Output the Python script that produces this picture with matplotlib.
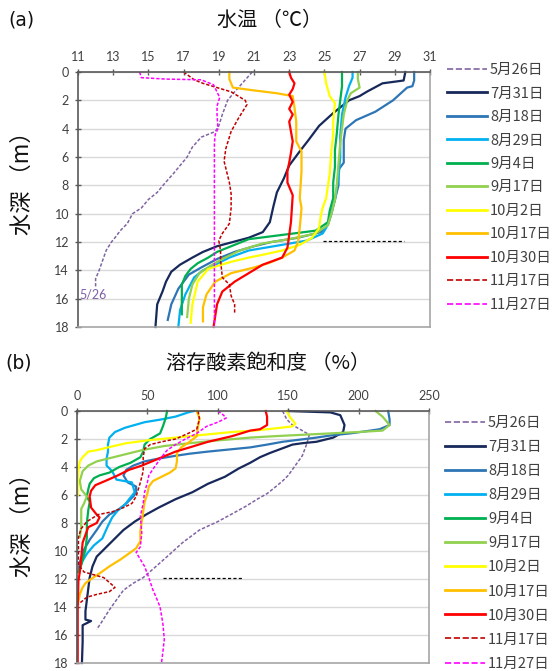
import matplotlib
matplotlib.use("Agg")
import matplotlib.pyplot as plt
from matplotlib.lines import Line2D

plt.rcParams['font.family'] = ['Noto Sans CJK JP', 'DejaVu Sans']

# ---------------- data ----------------
labels = ["5月26日", "7月31日", "8月18日", "8月29日", "9月4日", "9月17日",
          "10月2日", "10月17日", "10月30日", "11月17日", "11月27日"]
colors = ["#8064A2", "#17285A", "#2E75B6", "#00B0F0", "#00B050", "#92D050",
          "#FFFF00", "#FFC000", "#FF0000", "#C00000", "#FF00FF"]
dashed = [True, False, False, False, False, False, False, False, False, True, True]

temp_ticks = [11, 13, 15, 17, 19, 21, 23, 25, 27, 29, 31]
do_ticks = [0, 50, 100, 150, 200, 250]
depth_ticks = [0, 2, 4, 6, 8, 10, 12, 14, 16, 18]

# water temperature profiles: (temperature degC, depth m)
T_0526 = [(20.9,0.0),(20.4,0.7),(19.9,1.4),(19.5,2.0),(19.2,3.0),(19.0,3.8),(18.8,4.2),(18.0,4.6),
          (17.5,5.3),(17.2,6.0),(16.8,6.6),(16.4,7.2),(15.9,7.9),(15.5,8.5),(15.0,9.0),(14.6,9.6),
          (14.1,10.0),(13.8,10.7),(13.4,11.2),(13.1,11.7),(12.9,12.0),(12.6,12.6),(12.4,13.3),
          (12.2,14.0),(12.0,14.6),(12.0,15.2)]
T_0731 = [(29.6,0.0),(29.5,0.6),(28.3,0.8),(27.4,1.4),(27.0,1.7),(26.4,2.0),(25.5,2.9),(24.7,3.8),
          (24.1,4.8),(23.6,5.6),(23.0,6.6),(22.7,7.5),(22.3,8.5),(22.1,9.5),(21.9,10.6),(21.5,11.3),
          (20.7,11.7),(19.8,12.0),(18.9,12.3),(18.1,12.7),(17.5,13.1),(16.8,13.6),(16.3,14.1),
          (16.0,14.8),(15.8,15.5),(15.5,16.4),(15.4,18.0)]
T_0818 = [(30.1,0.0),(30.1,0.6),(30.0,1.0),(29.7,1.1),(28.9,2.0),(27.9,2.8),(26.8,3.4),(26.2,4.0),
          (26.1,4.8),(26.1,5.7),(26.1,6.4),(25.8,6.9),(25.8,8.0),(25.6,9.0),(25.4,10.0),(25.2,10.8),
          (24.8,11.3),(23.5,11.7),(22.0,12.0),(21.0,12.3),(19.9,12.7),(18.9,13.2),(18.0,13.8),
          (17.3,14.3),(16.7,15.3),(16.3,16.4),(16.1,17.5)]
T_0829 = [(26.6,0.0),(26.6,0.4),(26.4,1.0),(26.2,1.8),(26.0,3.0),(25.9,4.5),(25.9,6.0),(25.8,7.5),
          (25.6,9.0),(25.3,10.3),(25.1,11.0),(24.9,11.4),(24.0,11.9),(22.6,12.2),(20.7,12.6),
          (19.6,13.1),(18.8,13.6),(18.1,14.0),(17.6,14.5),(17.1,15.7),(16.8,16.8),(16.7,18.0)]
T_0904 = [(26.0,0.0),(26.0,1.0),(25.9,2.0),(25.8,3.0),(25.7,4.4),(25.6,5.5),(25.6,6.7),(25.5,7.8),
          (25.5,8.9),(25.3,9.8),(25.2,10.6),(24.5,11.2),(22.6,11.5),(20.7,11.8),(19.7,12.3),
          (18.9,12.7),(18.4,13.1),(17.8,13.5),(17.4,13.9),(17.1,14.4),(16.9,15.0),(16.9,16.0),(16.9,17.1)]
T_0917 = [(26.9,0.0),(26.9,0.5),(27.0,1.1),(26.5,1.5),(26.3,2.0),(26.1,3.0),(26.0,4.0),(25.9,5.0),
          (25.8,6.5),(25.7,8.0),(25.6,9.0),(25.4,10.0),(25.2,10.8),(24.5,11.4),(23.0,11.8),
          (21.5,12.1),(20.2,12.6),(19.2,13.2),(18.5,13.7),(17.9,14.2),(17.5,15.0),(17.3,16.0),(17.2,17.3)]
T_1002 = [(25.0,0.0),(25.1,0.8),(25.3,1.7),(25.6,2.2),(25.5,3.5),(25.5,4.4),(25.4,5.5),(25.3,7.2),
          (25.1,8.9),(24.9,9.6),(24.8,10.1),(24.7,11.0),(24.3,11.7),(23.6,12.2),(22.6,12.6),
          (21.5,12.9),(20.7,13.1),(19.7,13.4),(18.9,13.7),(18.4,13.9),(17.8,14.8),(17.5,16.4),(17.4,17.7)]
T_1017 = [(19.6,0.0),(19.6,0.5),(19.7,0.8),(19.8,1.1),(21.0,1.3),(22.3,1.5),(23.2,1.7),(23.3,2.5),
          (23.4,3.5),(23.4,4.9),(23.7,5.6),(23.7,7.0),(23.6,8.9),(23.7,9.6),(23.6,11.0),(23.5,12.0),
          (23.3,12.6),(22.6,13.1),(21.8,13.5),(21.0,13.8),(19.7,14.2),(18.8,14.8),(18.3,15.7),
          (18.1,16.6),(18.1,17.6)]
T_1030 = [(23.0,0.0),(23.1,0.4),(23.3,0.8),(23.2,1.2),(23.0,1.6),(23.2,2.1),(23.0,2.6),(23.2,3.0),
          (23.0,3.5),(23.1,4.2),(23.2,4.9),(23.1,5.7),(23.0,6.4),(22.9,7.0),(22.9,7.8),(23.2,8.7),
          (23.1,10.6),(23.0,11.5),(22.9,12.4),(22.6,13.1),(21.5,13.6),(20.7,14.2),(19.9,14.8),
          (19.2,15.5),(18.9,16.4),(18.7,18.0)]
T_1117 = [(17.0,0.0),(17.6,0.55),(18.1,0.8),(19.7,1.4),(20.5,2.0),(20.6,2.3),(20.1,3.3),(19.7,4.2),
          (19.4,5.4),(19.3,6.3),(19.5,7.3),(19.6,7.8),(19.7,8.6),(19.7,9.6),(19.6,10.7),(19.2,11.4),
          (19.0,11.9),(19.1,12.6),(19.1,13.3),(19.2,14.5),(19.6,15.0),(19.7,15.8),(19.9,16.4),(19.9,17.1)]
T_1127 = [(14.5,0.0),(14.6,0.4),(16.0,0.5),(18.0,0.55),(18.7,0.9),(19.05,1.8),(18.9,2.4),(18.9,3.0),
          (18.95,4.0),(18.8,4.4),(18.75,5.0),(18.75,10.0),(18.75,14.0),(18.75,18.0)]

# dissolved-oxygen saturation profiles: (saturation %, depth m)
DO_0526 = [(146,0.0),(149,0.6),(153,1.0),(160,1.4),(165,1.7),(163,2.4),(160,3.2),(155,3.9),(150,4.6),
           (146,5.0),(140,5.5),(135,5.9),(128,6.3),(120,6.8),(111,7.3),(100,7.9),(87,8.5),(75,9.4),
           (64,10.4),(55,11.2),(47,11.9),(40,12.3),(33,12.8),(28,13.5),(23,14.2),(18,15.0),(14,15.6)]
DO_0731 = [(150,0.0),(165,0.05),(180,0.1),(187,0.3),(190,1.0),(189,1.5),(182,1.9),(170,2.2),(160,2.3),
           (153,2.4),(145,2.7),(137,3.0),(130,3.3),(123,3.7),(115,4.1),(105,4.7),(93,5.2),(82,5.8),
           (70,6.3),(58,6.9),(49,7.4),(41,7.9),(33,8.5),(27,9.1),(20,9.8),(14,10.4),(11,11.1),(9,11.9),
           (8,12.7),(7,13.5),(6,14.3),(6,14.9),(10,15.0),(4,15.3),(4,16.5),(3.5,18.0)]
DO_0818 = [(221,0.0),(222,0.6),(222,1.0),(215,1.3),(205,1.45),(194,1.6),(180,1.75),(170,1.9),
           (158,2.05),(146,2.2),(135,2.4),(123,2.6),(108,2.75),(93,2.9),(80,3.05),(70,3.2),(58,3.4),
           (48,3.6),(40,3.9),(35,4.2),(33,4.6),(36,5.1),(42,5.4),(42,5.8),(40,6.1),(35,6.6),(30,7.0),
           (23,7.4),(18,7.9),(14,8.5),(9,9.2),(5,9.9),(2,10.8),(1,11.5)]
DO_0829 = [(83,0.0),(79,0.1),(70,0.4),(60,0.6),(48,0.8),(34,1.2),(27,1.5),(23,1.9),(22,2.4),(22,2.9),
           (21,3.4),(21,3.9),(25,4.3),(28,4.9),(39,5.1),(41,5.8),(37,6.3),(34,6.7),(29,7.1),(25,7.6),
           (22,8.2),(18,9.1),(12,9.6),(7,10.2),(4,10.7),(2,11.2)]
DO_0904 = [(64,0.0),(63,0.5),(61,1.1),(59,1.6),(52,2.0),(48,2.4),(47,2.9),(45,3.3),(38,3.7),(30,4.0),
           (23,4.4),(16,4.6),(12,4.8),(9,5.2),(8,5.6),(7,6.1),(9,6.5),(8,7.1),(7,8.0),(7,9.0),(6,9.9),
           (3,11.0),(1,11.5)]
DO_0917 = [(212,0.0),(217,0.4),(222,1.0),(217,1.4),(200,1.5),(180,1.6),(160,1.7),(140,1.8),(123,1.9),
           (100,2.1),(80,2.3),(62,2.5),(46,2.8),(34,3.1),(22,3.4),(14,3.6),(8,3.9),(4,4.3),(2,5.0),
           (3,5.6),(7,6.1),(5,6.6),(3,7.0),(3,8.3),(2,9.0)]
DO_1002 = [(149,0.0),(151,0.4),(155,0.9),(153,1.1),(140,1.25),(126,1.4),(110,1.5),(90,1.7),(70,1.9),
           (50,2.1),(35,2.3),(22,2.6),(14,2.8),(8,2.9),(4,3.3),(2,3.6),(1,4.2),(0.5,4.8),(0.5,6.0)]
DO_1017 = [(85,0.0),(87,0.5),(86,1.1),(85,1.8),(80,2.2),(74,2.6),(71,3.0),(71,3.6),(70,4.1),(66,4.4),
           (60,4.7),(54,5.0),(51,5.4),(50,5.9),(48,6.5),(47,7.2),(46,7.9),(45,8.6),(45,9.3),(42,9.8),
           (38,10.1),(31,10.6),(23,11.1),(16,11.6),(10,12.0),(6,12.3),(4,12.6),(2,13.1),(1,13.6)]
DO_1030 = [(134,0.0),(135,0.4),(135,1.0),(130,1.3),(123,1.4),(110,1.8),(93,2.2),(80,2.6),(70,2.9),
           (58,3.4),(46,3.9),(37,4.2),(29,4.6),(20,5.0),(13,5.3),(10,5.7),(9,6.1),(10,6.9),(14,7.4),
           (16,7.6),(14,8.0),(8,8.3),(4,9.4),(3,10.5),(2,11.5),(1,12.1),(0.5,14.0),(0.5,18.0)]
DO_1117 = [(86,0.0),(87,0.6),(85,1.3),(79,1.6),(70,2.0),(60,2.2),(52,2.4),(48,2.7),(47,3.3),(47,4.3),
           (45,5.1),(42,6.1),(39,6.6),(33,6.9),(25,7.2),(15,7.4),(7,7.9),(3,8.4),(1,9.0),(1,11.0),
           (5,11.5),(12,11.7),(19,11.9),(27,12.6),(23,12.9),(14,13.1),(7,13.3),(1,13.8)]
DO_1127 = [(100,0.0),(103,0.2),(106,0.5),(100,0.8),(92,1.1),(85,1.6),(77,2.0),(70,2.4),(64,2.8),
           (60,3.3),(55,4.0),(51,4.6),(50,5.1),(48,5.8),(47,6.6),(45,7.5),(46,8.7),(45,9.7),(42,10.1),
           (45,10.6),(48,11.1),(51,11.9),(54,12.8),(57,13.5),(59,14.0),(61,15.2),(62,16.3),(61,17.2),(60,18.0)]

temp_series = [T_0526, T_0731, T_0818, T_0829, T_0904, T_0917, T_1002, T_1017, T_1030, T_1117, T_1127]
do_series = [DO_0526, DO_0731, DO_0818, DO_0829, DO_0904, DO_0917, DO_1002, DO_1017, DO_1030, DO_1117, DO_1127]

# reference (dashed black) line at ~12 m
temp_ref_x = [24.9, 29.5]
do_ref_x = [61, 118]
ref_depth = 11.9

# ---------------- figure ----------------
W, H = 556, 671
fig = plt.figure(figsize=(W / 100, H / 100), dpi=100)

def fx(px):
    return px / W

def fy(py):
    return 1 - py / H

ax1 = fig.add_axes([fx(78), fy(327), fx(352), 255 / H])
ax2 = fig.add_axes([fx(77), fy(663), fx(352), 252 / H])

tick_font = dict(family=['Lato', 'DejaVu Sans'], size=9, color='#404040')


def style_axis(ax, xlim, xticks):
    ax.set_xlim(*xlim)
    ax.set_ylim(18, 0)
    ax.xaxis.set_ticks_position('top')
    ax.set_xticks(xticks)
    ax.set_yticks(depth_ticks)
    ax.set_xticklabels([str(t) for t in xticks], **tick_font)
    ax.set_yticklabels([str(t) for t in depth_ticks], **tick_font)
    ax.tick_params(axis='x', direction='inout', length=5, width=1, color='#595959', pad=4)
    ax.tick_params(axis='y', direction='inout', length=5, width=1, color='#595959', pad=4)
    for s in ['top', 'left']:
        ax.spines[s].set_color('#595959')
        ax.spines[s].set_linewidth(1.2)
    for s in ['right', 'bottom']:
        ax.spines[s].set_color('#a6a6a6')
        ax.spines[s].set_linewidth(1.2)
    ax.yaxis.grid(True, color='#d9d9d9', linewidth=1.0)
    ax.set_axisbelow(True)


def draw(ax, series_list):
    handles = []
    for pts, c, d in zip(series_list, colors, dashed):
        xs = [p[0] for p in pts]
        ys = [p[1] for p in pts]
        if d:
            ln, = ax.plot(xs, ys, color=c, lw=1.1, linestyle=(0, (2.2, 1.2)), clip_on=False)
        else:
            ln, = ax.plot(xs, ys, color=c, lw=1.6, clip_on=False)
        handles.append(ln)
    return handles


style_axis(ax1, (11, 31), temp_ticks)
style_axis(ax2, (0, 250), do_ticks)

h1 = draw(ax1, temp_series)
h2 = draw(ax2, do_series)

ax1.plot(temp_ref_x, [ref_depth, ref_depth], color='black', lw=0.9, linestyle=(0, (2.5, 1.8)))
ax2.plot(do_ref_x, [ref_depth, ref_depth], color='black', lw=0.9, linestyle=(0, (2.5, 1.8)))

ax1.text(11.1, 15.7, "5/26", color='#7f5fa8', fontsize=9, family=['Lato', 'DejaVu Sans'],
         va='center', ha='left')

leg_kw = dict(loc='upper left', frameon=False, handlelength=2.75, handletextpad=0.2,
              borderaxespad=0, borderpad=0, fontsize=10.5, labelcolor='#404040',
              bbox_transform=fig.transFigure)

def leg_handles(hs):
    out = []
    for h, d in zip(hs, dashed):
        out.append(Line2D([0], [0], color=h.get_color(), lw=2.0 if not d else 1.2,
                          linestyle=h.get_linestyle() if d else '-'))
    return out

lg1 = ax1.legend(leg_handles(h1), labels, bbox_to_anchor=(fx(447), fy(63)), labelspacing=0.65, **leg_kw)
lg2 = ax2.legend(leg_handles(h2), labels, bbox_to_anchor=(fx(445), fy(416)), labelspacing=0.69, **leg_kw)

# titles and labels
fig.text(fx(270), fy(20), "水温 （℃）", ha='center', va='center', fontsize=14.5, color='#111111')
fig.text(fx(268), fy(363), "溶存酸素飽和度 （%）", ha='center', va='center', fontsize=14.5, color='#111111')
fig.text(fx(8), fy(20), "(a)", ha='left', va='center', fontsize=13.5, color='#111111',
         family=['DejaVu Sans'])
fig.text(fx(5), fy(363), "(b)", ha='left', va='center', fontsize=13.5, color='#111111',
         family=['DejaVu Sans'])
fig.text(fx(22), fy(178), "水深 （m）", ha='center', va='center', rotation=90, fontsize=16,
         color='#111111')
fig.text(fx(22), fy(520), "水深 （m）", ha='center', va='center', rotation=90, fontsize=16,
         color='#111111')

fig.savefig("out.png", dpi=100)
